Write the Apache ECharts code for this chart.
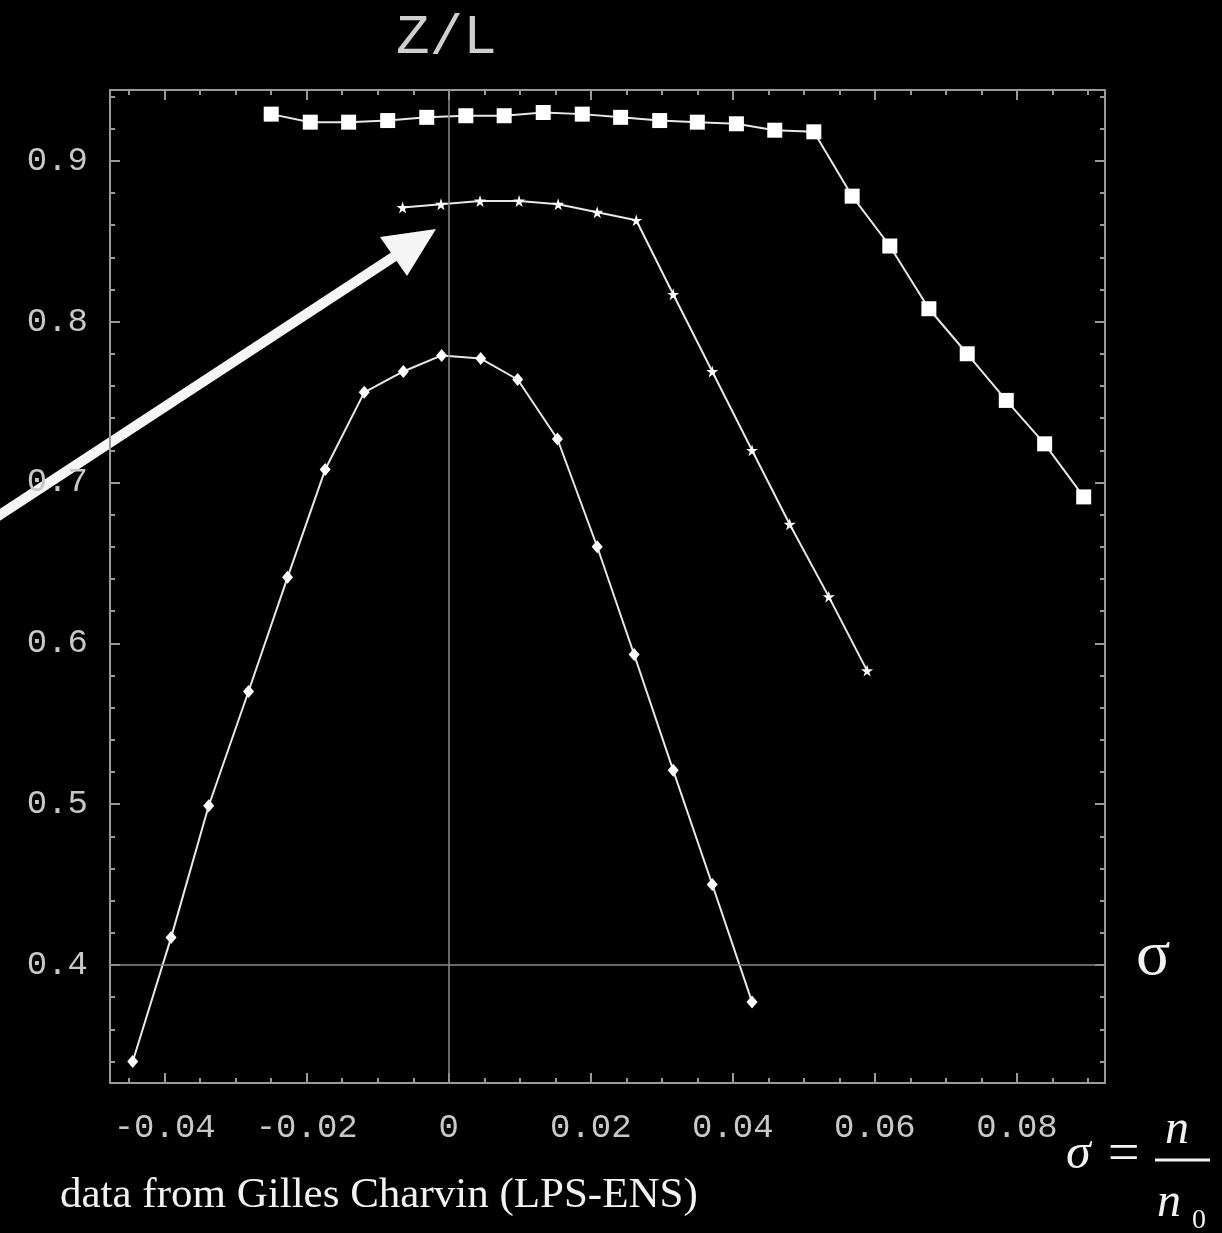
<!DOCTYPE html>
<html>
<head>
<meta charset="utf-8">
<script src="https://cdn.jsdelivr.net/npm/echarts@6/dist/echarts.min.js"></script>
<style>
  html, body { margin: 0; padding: 0; background: #000; }
  #main { width: 1222px; height: 1233px; }
</style>
</head>
<body>
<div id="main"></div>
<script>
// data (sigma, Z/L)
var diamondX = [-0.0445, -0.0391, -0.0338, -0.0282, -0.0227, -0.0174, -0.0119, -0.0064, -0.0010, 0.0045, 0.0097, 0.0153, 0.0209, 0.0261, 0.0316, 0.0371, 0.0427];
var diamondY = [0.340, 0.417, 0.499, 0.570, 0.641, 0.708, 0.756, 0.769, 0.779, 0.777, 0.764, 0.727, 0.660, 0.593, 0.521, 0.450, 0.377];

var starX = [-0.0065, -0.0011, 0.0044, 0.0099, 0.0154, 0.0209, 0.0264, 0.0316, 0.0371, 0.0427, 0.0480, 0.0535, 0.0589];
var starY = [0.871, 0.873, 0.875, 0.875, 0.873, 0.868, 0.863, 0.817, 0.769, 0.720, 0.674, 0.629, 0.583];

var squareX = [-0.0250, -0.0195, -0.0141, -0.0086, -0.0031, 0.0024, 0.0078, 0.0133, 0.0188, 0.0242, 0.0297, 0.0350, 0.0405, 0.0459, 0.0514, 0.0568, 0.0621, 0.0676, 0.0730, 0.0785, 0.0839, 0.0894];
var squareY = [0.929, 0.924, 0.924, 0.925, 0.927, 0.928, 0.928, 0.930, 0.929, 0.927, 0.925, 0.924, 0.923, 0.919, 0.918, 0.878, 0.847, 0.808, 0.780, 0.751, 0.724, 0.691];

var xTicks = [-0.04, -0.02, 0, 0.02, 0.04, 0.06, 0.08];
var xTickLabels = ['-0.04', '-0.02', '0', '0.02', '0.04', '0.06', '0.08'];
var yTicks = [0.4, 0.5, 0.6, 0.7, 0.8, 0.9];
var yTickLabels = ['0.4', '0.5', '0.6', '0.7', '0.8', '0.9'];

var xMin = -0.0477, xMax = 0.0924;
var yMin = 0.3266, yMax = 0.944;

function minorTicks(from, to, step) {
    var out = [];
    for (var v = from; v <= to + 1e-9; v += step) out.push(Math.round(v * 10000) / 10000);
    return out;
}
var xMinor = minorTicks(-0.045, 0.09, 0.005);
var yMinor = minorTicks(0.34, 0.94, 0.02);

function pairs(xs, ys) {
    return xs.map(function (x, i) { return [x, ys[i]]; });
}
function lookup(ticks, labels) {
    return function (v) {
        for (var i = 0; i < ticks.length; i++) {
            if (Math.abs(ticks[i] - v) < 1e-9) return labels[i];
        }
        return '';
    };
}

var frameCol = '#9a9a9a';
var monoLabel = { fontFamily: 'Liberation Mono', fontSize: 34, color: '#c8c8c8' };

function axis(kind, pos, ticks, len, withLabel) {
    var isX = kind === 'x';
    return {
        type: 'value', position: pos,
        min: isX ? xMin : yMin, max: isX ? xMax : yMax,
        axisLine: { show: withLabel !== null, onZero: false, lineStyle: { color: frameCol, width: 2 } },
        splitLine: { show: false },
        axisTick: { show: true, inside: true, length: len, customValues: ticks, lineStyle: { color: frameCol, width: 2 } },
        axisLabel: withLabel ? Object.assign({
            show: true, margin: isX ? 28 : 22,
            customValues: isX ? xTicks : yTicks,
            formatter: isX ? lookup(xTicks, xTickLabels) : lookup(yTicks, yTickLabels)
        }, monoLabel) : { show: false }
    };
}

var starPath = 'path://M50,0 L61,35 L98,35 L68,57 L79,91 L50,70 L21,91 L32,57 L2,35 L39,35 Z';
var lineCol = '#e8e8e8';

var myChart = echarts.init(document.getElementById('main'));
var option = {
    backgroundColor: '#000',
    animation: false,
    grid: { left: 110, right: 117, top: 90, bottom: 150, containLabel: false, outerBoundsMode: 'none' },
    xAxis: [
        axis('x', 'bottom', xTicks, 10, true),
        axis('x', 'bottom', xMinor, 5, null),
        axis('x', 'top', xTicks, 10, false),
        axis('x', 'top', xMinor, 5, null)
    ],
    yAxis: [
        axis('y', 'left', yTicks, 10, true),
        axis('y', 'left', yMinor, 5, null),
        axis('y', 'right', yTicks, 10, false),
        axis('y', 'right', yMinor, 5, null)
    ],
    graphic: [
        { type: 'text', left: 396, top: 10, style: { text: 'Z/L', fontFamily: 'Liberation Mono', fontSize: 56, fill: '#cfcfcf' } },
        { type: 'text', left: 1136, top: 925, style: { text: 'σ', fontFamily: 'Liberation Serif', fontSize: 64, fill: '#f2f2f2' } },
        { type: 'text', left: 60, top: 1174, style: { text: 'data from Gilles Charvin (LPS-ENS)', fontFamily: 'Liberation Serif', fontSize: 43, fill: '#f2f2f2' } },
        // formula sigma = n / n0
        { type: 'text', left: 1066, top: 1130, style: { text: 'σ', fontFamily: 'Liberation Serif', fontStyle: 'italic', fontSize: 50, fill: '#f2f2f2' } },
        { type: 'text', left: 1108, top: 1128, style: { text: '=', fontFamily: 'Liberation Serif', fontSize: 56, fill: '#f2f2f2' } },
        { type: 'line', shape: { x1: 1155, y1: 1160, x2: 1210, y2: 1160 }, style: { stroke: '#f2f2f2', lineWidth: 3 } },
        { type: 'text', left: 1165, top: 1106, style: { text: 'n', fontFamily: 'Liberation Serif', fontStyle: 'italic', fontSize: 48, fill: '#f2f2f2' } },
        { type: 'text', left: 1157, top: 1179, style: { text: 'n', fontFamily: 'Liberation Serif', fontStyle: 'italic', fontSize: 48, fill: '#f2f2f2' } },
        { type: 'text', left: 1192, top: 1207, style: { text: '0', fontFamily: 'Liberation Serif', fontSize: 28, fill: '#f2f2f2' } },
        // arrow
        { type: 'line', shape: { x1: -5, y1: 518, x2: 398, y2: 254 }, style: { stroke: '#f5f5f5', lineWidth: 10 } },
        { type: 'polygon', shape: { points: [[436, 229], [380, 237], [407, 276]] }, style: { fill: '#f5f5f5' } }
    ],
    series: [
        {
            type: 'line', name: 'diamond', data: pairs(diamondX, diamondY),
            symbol: 'diamond', symbolSize: [11, 13],
            lineStyle: { color: lineCol, width: 2 }, itemStyle: { color: '#fff' },
            markLine: {
                silent: true, symbol: 'none', animation: false,
                label: { show: false },
                lineStyle: { color: '#8a8a8a', width: 1.5, type: 'solid' },
                data: [{ xAxis: 0 }, { yAxis: 0.4 }]
            }
        },
        {
            type: 'line', name: 'star', data: pairs(starX, starY),
            symbol: starPath, symbolSize: 12,
            lineStyle: { color: lineCol, width: 2 }, itemStyle: { color: '#fff' }
        },
        {
            type: 'line', name: 'square', data: pairs(squareX, squareY),
            symbol: 'rect', symbolSize: 15,
            lineStyle: { color: lineCol, width: 2 }, itemStyle: { color: '#fff' }
        }
    ]
};
myChart.setOption(option);
</script>
</body>
</html>
